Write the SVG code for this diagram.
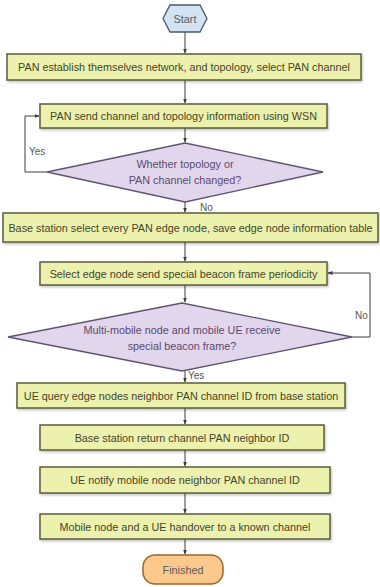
<svg xmlns="http://www.w3.org/2000/svg" width="380" height="587" viewBox="0 0 380 587">
<defs>
<marker id="ah" viewBox="0 0 10 10" refX="9" refY="5" markerWidth="5" markerHeight="5" orient="auto">
<path d="M0,1 L10,5 L0,9 z" fill="#3a3a3a"/>
</marker>
<filter id="sh" x="-5%" y="-20%" width="110%" height="150%">
<feDropShadow dx="1" dy="1.5" stdDeviation="0.8" flood-color="#000" flood-opacity="0.25"/>
</filter>
</defs>
<style>
text{font-family:"Liberation Sans","DejaVu Sans",sans-serif;font-size:10.8px;text-anchor:middle;dominant-baseline:central}
.box rect{fill:#ecf1ae;stroke:#5c5c3c;stroke-width:1.5;filter:url(#sh)}
.box text{fill:#45452a}
.dec polygon{fill:#e2d6ec;stroke:#5f5470;stroke-width:1.3}
.dec text{fill:#5a4a6e}
.term text{fill:#5a5a5a}
.conn path{fill:none;stroke:#3c3c3c;stroke-width:1;marker-end:url(#ah)}
.lbl{fill:#555;font-size:10px;text-anchor:start}
</style>
<rect width="380" height="587" fill="#ffffff"/>
<g class="conn">
<path d="M185,32 V53"/>
<path d="M185,80 V103"/>
<path d="M185,128 V142"/>
<path d="M47,172 H25 V116 H39"/>
<path d="M185,202 V212"/>
<path d="M185,242 V261"/>
<path d="M185,285 V302"/>
<path d="M352,337 H370 V273 H328"/>
<path d="M185,371 V382"/>
<path d="M185,408 V424"/>
<path d="M185,450 V466"/>
<path d="M185,493 V513"/>
<path d="M185,539 V554"/>
</g>
<g id="start" class="term">
<polygon points="163,18.5 170,5 200,5 207,18.5 200,32 170,32" fill="#d3e3f3" stroke="#4a5868" stroke-width="1.3"/>
<text x="185" y="18.5">Start</text>
</g>
<g id="n1" class="box"><rect x="7" y="54" width="354" height="26"/><text x="184" y="67">PAN establish themselves network, and topology, select PAN channel</text></g>
<g id="n2" class="box"><rect x="40" y="104" width="287" height="24"/><text x="183.5" y="116">PAN send channel and topology information using WSN</text></g>
<g id="d1" class="dec"><polygon points="185,143 323,172 185,202 47,172"/><text x="185" y="164">Whether topology or</text><text x="185" y="180">PAN channel changed?</text></g>
<g id="n3" class="box"><rect x="3" y="213" width="375" height="29"/><text x="190.5" y="227.5">Base station select every PAN edge node, save edge node information table</text></g>
<g id="n4" class="box"><rect x="40" y="262" width="287" height="23"/><text x="183.5" y="273.5">Select edge node send special beacon frame periodicity</text></g>
<g id="d2" class="dec"><polygon points="182,303 352,337 182,371 8,337"/><text x="182" y="330">Multi-mobile node and mobile UE receive</text><text x="182" y="346">special beacon frame?</text></g>
<g id="n5" class="box"><rect x="17" y="383" width="328" height="25"/><text x="181" y="395.5">UE query edge nodes neighbor PAN channel ID from base station</text></g>
<g id="n6" class="box"><rect x="40" y="425" width="284" height="25"/><text x="182" y="437.5">Base station return channel PAN neighbor ID</text></g>
<g id="n7" class="box"><rect x="40" y="467" width="290" height="26"/><text x="185" y="480">UE notify mobile node neighbor PAN channel ID</text></g>
<g id="n8" class="box"><rect x="40" y="514" width="290" height="25"/><text x="185" y="526.5">Mobile node and a UE handover to a known channel</text></g>
<g id="end" class="term">
<rect x="143" y="555" width="80" height="29" rx="12" fill="#fbc98c" stroke="#9a6630" stroke-width="1.5"/>
<text x="183" y="569.5" fill="#6a5030">Finished</text>
</g>
<g id="labels">
<text class="lbl" x="29" y="151">Yes</text>
<text class="lbl" x="200" y="207">No</text>
<text class="lbl" x="355" y="315">No</text>
<text class="lbl" x="188" y="375">Yes</text>
</g>
</svg>
